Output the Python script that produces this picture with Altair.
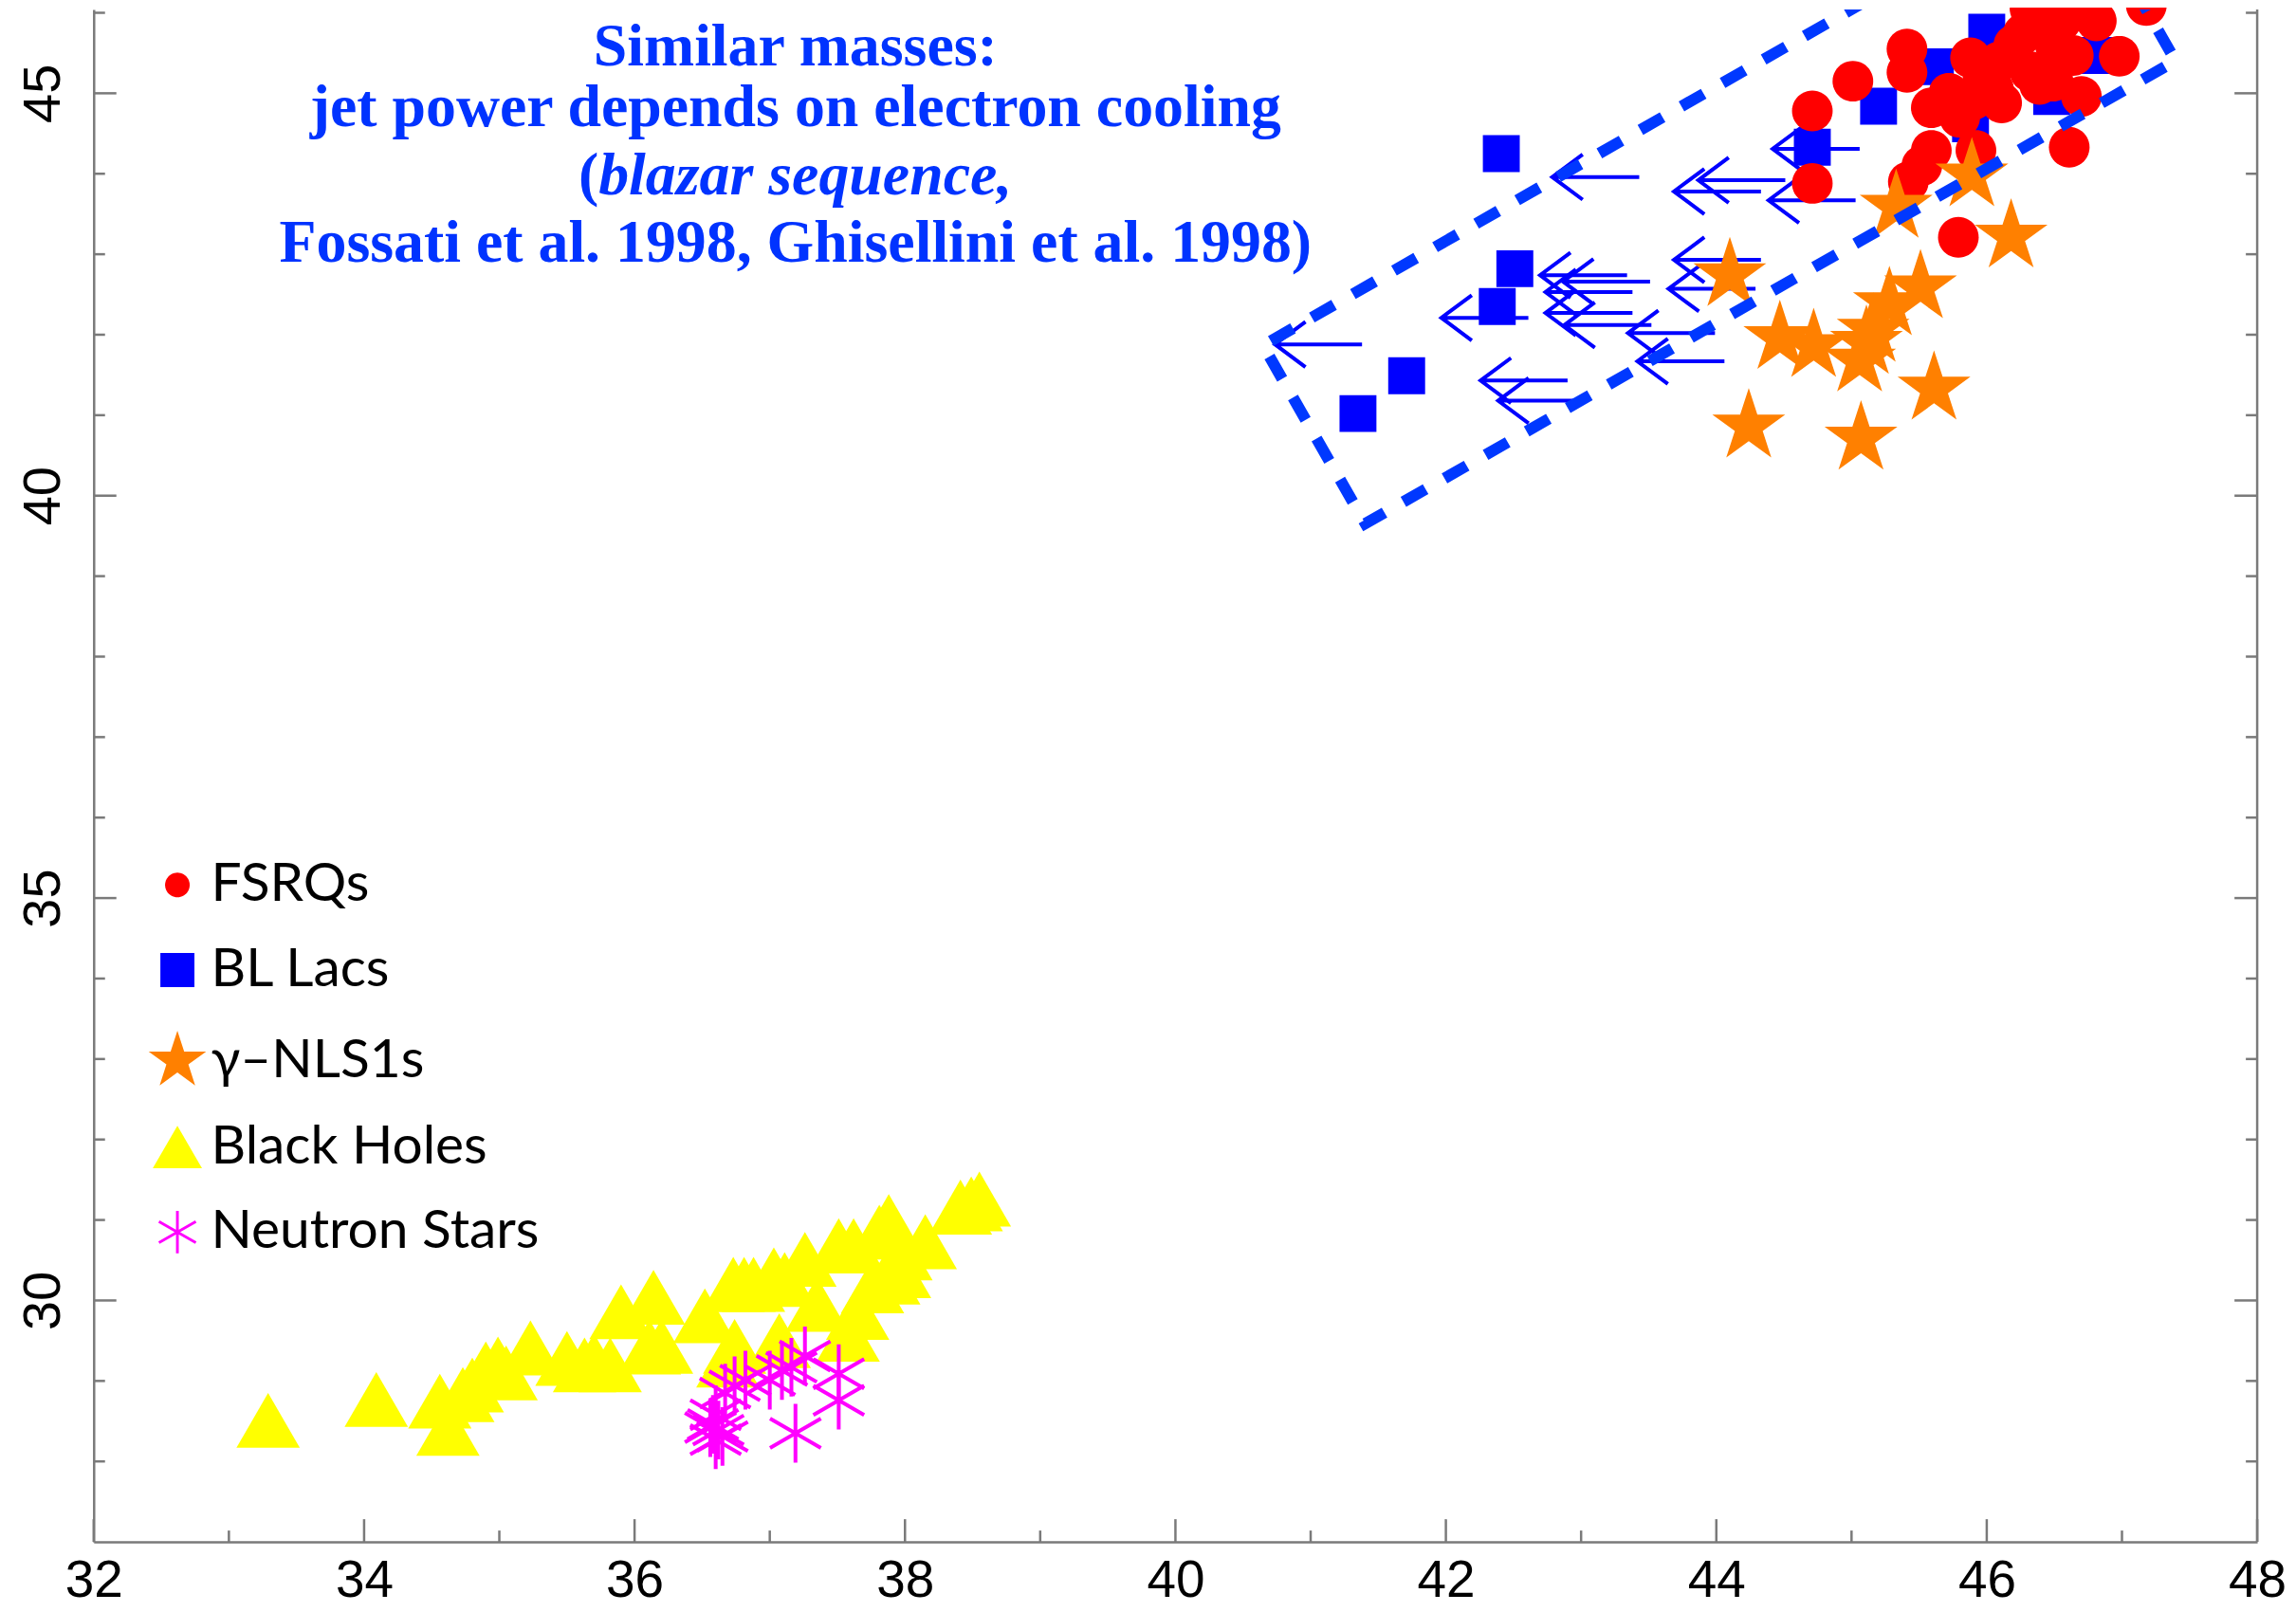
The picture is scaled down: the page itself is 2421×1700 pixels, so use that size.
import math
import altair as alt
import pandas as pd

# ---------------- data ----------------
categories = ["FSRQs", "BL Lacs", "γ–NLS1s", "Black Holes", "Neutron Stars"]
cat_colors = ["#FF0000", "#0000FF", "#FF8000", "#FFFF00", "#FF00FF"]

fsrq_x = [44.71, 44.71, 45.01, 45.41, 45.41, 45.59, 45.59, 45.52, 45.42, 45.88,
          45.92, 45.79, 46.61, 46.98, 47.18, 46.70, 45.72, 45.90, 45.97, 46.11,
          46.09, 46.27, 46.32, 46.39, 46.51, 46.55, 46.69, 46.81, 46.32, 46.64,
          46.49, 46.42, 46.20, 45.80, 46.05]
fsrq_y = [44.78, 43.88, 45.15, 45.55, 45.26, 44.82, 44.29, 44.10, 43.90, 45.44,
          44.29, 43.21, 44.33, 45.46, 46.09, 44.96, 45.00, 44.92, 45.15, 44.88,
          45.39, 45.74, 45.27, 45.11, 45.58, 45.90, 46.05, 45.90, 46.05, 45.47,
          45.15, 45.85, 45.60, 44.70, 45.05]

bllac_x = [42.41, 42.51, 42.38, 41.71, 41.35, 44.71, 45.20, 45.62, 46.00, 45.88, 46.48, 46.80]
bllac_y = [44.25, 42.82, 42.35, 41.49, 41.02, 44.33, 44.84, 45.33, 45.76, 44.62, 44.96, 45.47]

# BL Lac upper limits (arrows pointing to lower x)
bllac_lim_x = [43.43, 44.51, 44.33, 45.06, 45.03, 44.33, 44.29, 43.99, 44.06, 43.34,
               43.51, 43.38, 43.38, 43.52, 42.61, 41.38, 42.90, 43.03]
bllac_lim_y = [43.96, 43.92, 43.78, 44.31, 43.67, 42.93, 42.57, 42.02, 41.67, 42.74,
               42.66, 42.53, 42.27, 42.12, 42.21, 41.88, 41.43, 41.18]

nls1_x = [44.10, 44.47, 44.72, 44.24, 45.07, 45.61, 45.06, 45.16, 45.28, 45.51, 45.33, 45.89, 46.18, 45.11]
nls1_y = [42.74, 41.96, 41.86, 40.86, 40.71, 41.33, 41.68, 42.05, 42.38, 42.59, 43.59, 43.98, 43.22, 41.90]

bh_x = [33.29, 34.09, 34.56, 34.62, 34.73, 34.80, 34.90, 34.99, 35.05, 35.23,
        35.50, 35.63, 35.70, 35.82, 35.90, 36.11, 36.14, 36.20, 36.52, 36.69,
        36.74, 36.73, 36.81, 36.88, 37.03, 37.07, 37.11, 37.26, 37.35, 37.51,
        37.58, 37.62, 37.65, 37.76, 37.81, 37.88, 37.88, 37.96, 37.97, 38.15,
        38.41, 38.49, 38.55]
bh_y = [28.51, 28.77, 28.75, 28.41, 28.83, 28.95, 29.15, 29.21, 29.10, 29.41,
        29.28, 29.20, 29.25, 29.20, 29.86, 29.42, 30.04, 29.43, 29.81, 29.26,
        29.43, 30.20, 30.20, 30.20, 30.32, 29.50, 30.26, 30.51, 29.95, 30.68,
        29.58, 30.68, 29.85, 30.18, 30.85, 30.29, 30.98, 30.37, 30.59, 30.73,
        31.16, 31.20, 31.26]

ns_x = [37.19, 37.51, 37.51, 37.26, 37.16, 37.09, 37.00, 36.82, 36.74, 36.67,
        36.60, 36.58, 36.62, 36.60, 36.65, 36.56]
ns_y = [28.35, 28.76, 29.09, 29.31, 29.17, 29.13, 29.01, 29.01, 28.94, 28.85,
        28.58, 28.46, 28.39, 28.27, 28.31, 28.42]

# dashed box corners (data units)
box_x = [46.640, 40.648, 41.404, 47.396, 46.640]
box_y = [47.618, 41.867, 39.653, 45.404, 47.618]

# annotation
note_lines = ["Similar masses:", "jet power depends on electron cooling",
              "Fossati et al. 1998, Ghisellini et al. 1998)"]
note_x = [37.19, 37.19, 37.19]
note_y = [45.35, 44.59, 42.91]
note3_open = ["("]
note3_italic = ["blazar sequence,"]
note3_x = [35.734]
note3_y = [43.745]

# axis ticks
x_major = [32, 34, 36, 38, 40, 42, 44, 46, 48]
x_minor = [33, 35, 37, 39, 41, 43, 45, 47]
y_major = [30, 35, 40, 45]
y_minor = [28, 29, 31, 32, 33, 34, 36, 37, 38, 39, 41, 42, 43, 44, 46]

# ---------------- styling ----------------
W, H = 2287, 1620
XDOM, YDOM = [32, 48], [27, 46.04]
AXIS_GRAY = "#7a7a7a"
NOTE_BLUE = "#0033FF"
BOX_BLUE = "#0038FF"
ARROW_BLUE = "#0000FF"


def polygon_path(pts):
    return "M" + "L".join(f"{px:.3f},{py:.3f}" for px, py in pts) + "Z"


CIRCLE = polygon_path([(0.578 * math.cos(2 * math.pi * k / 48), 0.578 * math.sin(2 * math.pi * k / 48)) for k in range(48)])
SQUARE = "M-0.8,-0.8L0.8,-0.8L0.8,0.8L-0.8,0.8Z"
STAR = polygon_path([((1.42 if k % 2 == 0 else 1.42 * 0.382) * math.cos(math.radians(-90 + 36 * k)),
                      (1.42 if k % 2 == 0 else 1.42 * 0.382) * math.sin(math.radians(-90 + 36 * k))) for k in range(10)])
TRIANGLE = "M0,-1L1.156,1L-1.156,1Z"


def bar(theta, h=0.065):
    dx, dy = math.cos(theta), math.sin(theta)
    nx, ny = -dy * h, dx * h
    return polygon_path([(dx + nx, dy + ny), (dx - nx, dy - ny), (-dx - nx, -dy - ny), (-dx + nx, -dy + ny)])


ASTERISK = "".join(bar(math.radians(a)) for a in (90, 30, -30))
ARROW = "M0,0L-2,0M-1.3,-0.52L-2,0L-1.3,0.52"
shapes = [CIRCLE, SQUARE, STAR, TRIANGLE, ASTERISK]

xs = alt.Scale(domain=XDOM, nice=False, zero=False)
ys = alt.Scale(domain=YDOM, nice=False, zero=False)

x_axis = alt.Axis(values=x_major, title=None, grid=False, ticks=False, tickSize=0, labelPadding=15,
                  labelFont="Liberation Sans", labelFontSize=55, labelColor="black", labelFlush=False,
                  labelOverlap=False, format="d", domainColor=AXIS_GRAY, domainWidth=2.5)
y_axis = alt.Axis(values=y_major, title=None, grid=False, ticks=False, tickSize=0, labelPadding=36,
                  labelAngle=270, labelAlign="center", labelBaseline="alphabetic",
                  labelFont="Liberation Sans", labelFontSize=56, labelColor="black", labelFlush=False,
                  labelOverlap=False, format="d", domainColor=AXIS_GRAY, domainWidth=2.5)

X = alt.X("x:Q", scale=xs, axis=x_axis)
Y = alt.Y("y:Q", scale=ys, axis=y_axis)

legend = alt.Legend(title=None, orient="none", legendX=60, legendY=897, labelFont="Lato",
                    labelFontSize=57, labelColor="black", labelLimit=2000, symbolSize=2025,
                    symbolOpacity=1, rowPadding=32, labelOffset=7, padding=0, symbolOffset=0)
color_enc = alt.Color("cat:N", scale=alt.Scale(domain=categories, range=cat_colors), legend=legend)
shape_enc = alt.Shape("cat:N", scale=alt.Scale(domain=categories, range=shapes), legend=legend)


def point_layer(xv, yv, cat, size):
    df = pd.DataFrame({"x": xv, "y": yv, "cat": [cat] * len(xv)})
    return alt.Chart(df).mark_point(filled=True, size=size, opacity=1, strokeWidth=0).encode(
        x=X, y=Y, color=color_enc, shape=shape_enc)


bh_layer = point_layer(bh_x, bh_y, "Black Holes", 3359)
ns_layer = point_layer(ns_x, ns_y, "Neutron Stars", 3844)
arrow_layer = alt.Chart(pd.DataFrame({"x": bllac_lim_x, "y": bllac_lim_y})).mark_point(
    shape=ARROW, size=8464, filled=False, color=ARROW_BLUE, strokeWidth=4, opacity=1).encode(x=X, y=Y)
bll_layer = point_layer(bllac_x, bllac_y, "BL Lacs", 2377)
fsrq_layer = point_layer(fsrq_x, fsrq_y, "FSRQs", 5535)
nls_layer = point_layer(nls1_x, nls1_y, "γ–NLS1s", 3252)

box_layer = alt.Chart(pd.DataFrame({"x": box_x, "y": box_y, "o": list(range(len(box_x)))})).mark_line(
    color=BOX_BLUE, strokeWidth=12, strokeDash=[27, 23], strokeCap="butt", clip=True).encode(
    x=X, y=Y, order="o:Q")

note_layer = alt.Chart(pd.DataFrame({"x": note_x, "y": note_y, "t": note_lines})).mark_text(
    font="Liberation Serif", fontWeight="bold", fontSize=64, color=NOTE_BLUE, align="center",
    baseline="alphabetic").encode(x=X, y=Y, text="t:N")
note3a = alt.Chart(pd.DataFrame({"x": note3_x, "y": note3_y, "t": note3_open})).mark_text(
    font="Liberation Serif", fontWeight="bold", fontSize=64, color=NOTE_BLUE, align="right",
    baseline="alphabetic").encode(x=X, y=Y, text="t:N")
note3b = alt.Chart(pd.DataFrame({"x": note3_x, "y": note3_y, "t": note3_italic})).mark_text(
    font="Liberation Serif", fontWeight="bold", fontStyle="italic", fontSize=64, color=NOTE_BLUE,
    align="left", baseline="alphabetic").encode(x=X, y=Y, text="t:N")

tick_kw = dict(color=AXIS_GRAY, strokeWidth=2.5)
xt_major = alt.Chart(pd.DataFrame({"x": x_major})).mark_rule(**tick_kw).encode(
    x=X, y=alt.value(H), y2=alt.value(H - 24))
xt_minor = alt.Chart(pd.DataFrame({"x": x_minor})).mark_rule(**tick_kw).encode(
    x=X, y=alt.value(H), y2=alt.value(H - 12))
yl_major = alt.Chart(pd.DataFrame({"y": y_major})).mark_rule(**tick_kw).encode(
    y=Y, x=alt.value(0), x2=alt.value(24))
yl_minor = alt.Chart(pd.DataFrame({"y": y_minor})).mark_rule(**tick_kw).encode(
    y=Y, x=alt.value(0), x2=alt.value(12))
yr_major = alt.Chart(pd.DataFrame({"y": y_major})).mark_rule(**tick_kw).encode(
    y=Y, x=alt.value(W), x2=alt.value(W - 24))
yr_minor = alt.Chart(pd.DataFrame({"y": y_minor})).mark_rule(**tick_kw).encode(
    y=Y, x=alt.value(W), x2=alt.value(W - 12))
right_line = alt.Chart(pd.DataFrame({"x": [XDOM[1]]})).mark_rule(**tick_kw).encode(x=X)

chart = alt.layer(
    bh_layer, ns_layer, arrow_layer, bll_layer, fsrq_layer, nls_layer,
    box_layer, note_layer, note3a, note3b,
    xt_major, xt_minor, yl_major, yl_minor, yr_major, yr_minor, right_line,
).properties(
    width=W, height=H,
    padding={"left": 91, "top": 0, "right": 33, "bottom": 70},
    autosize=alt.AutoSizeParams(type="none"),
    background="white",
).configure_view(strokeWidth=0)

chart.save("out.html", embed_options={"renderer": "svg", "actions": False})
